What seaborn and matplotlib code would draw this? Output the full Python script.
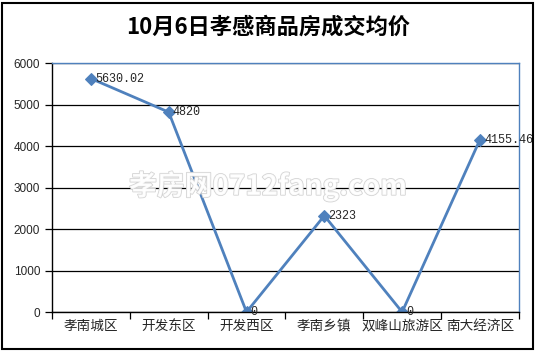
import pandas as pd
import numpy as np
import matplotlib.pyplot as plt
import matplotlib.patheffects as pe
from matplotlib.patches import Rectangle
import seaborn as sns

# data
districts = ['孝南城区', '开发东区', '开发西区', '孝南乡镇', '双峰山旅游区', '南大经济区']
avg_price = [5630.02, 4820, 0, 2323, 0, 4155.46]
price_labels = ['5630.02', '4820', '0', '2323', '0', '4155.46']

df = pd.DataFrame({'district': districts, 'price': avg_price})

sns.set_style('white')
plt.rcParams['font.family'] = ['Noto Sans CJK SC', 'DejaVu Sans']

fig = plt.figure(figsize=(5.36, 3.51), dpi=100)
ax = fig.add_axes([0.097, 0.111, 0.871, 0.709])

line_color = '#4F81BD'
sns.lineplot(data=df, x='district', y='price', ax=ax, color=line_color,
             linewidth=2, marker='D', markersize=6.5, markeredgecolor=line_color,
             sort=False)

for i, (v, lab) in enumerate(zip(avg_price, price_labels)):
    ax.annotate(lab, (i, v), xytext=(3, 0), textcoords='offset points',
                ha='left', va='center', fontsize=8.5, family='Liberation Mono')

ax.set_ylim(0, 6000)
ax.set_xlim(-0.5, len(districts) - 0.5)
ax.set_yticks(np.arange(0, 6001, 1000))
ax.yaxis.grid(True, color='black', linewidth=0.9)
ax.set_axisbelow(True)
ax.set_xlabel('')
ax.set_ylabel('')

# category boundaries as tick marks
ax.set_xticks(np.arange(-0.5, len(districts), 1.0), minor=True)
ax.tick_params(axis='x', which='major', length=0, labelsize=9.8, pad=5)
ax.tick_params(axis='x', which='minor', length=5, width=0.9, color='black', direction='out')
ax.tick_params(axis='y', length=5, width=0.9, color='black', direction='out', labelsize=8.5)
ax.tick_params(axis='both', which='both', bottom=True, left=True)
for lab in ax.get_yticklabels():
    lab.set_family('Liberation Sans')

ax.spines['left'].set_color('black')
ax.spines['bottom'].set_color('black')
ax.spines['top'].set_color(line_color)
ax.spines['right'].set_color(line_color)
for s in ax.spines.values():
    s.set_linewidth(1)

# watermark
fig.text(0.5, 0.47, '孝房网0712fang.com', ha='center', va='center', fontsize=20,
         color='white', alpha=0.9, family=['Noto Sans CJK SC', 'DejaVu Serif'],
         fontweight='bold',
         path_effects=[pe.withStroke(linewidth=1.2, foreground='#d0d0d0')])

fig.text(0.5, 0.922, '10月6日孝感商品房成交均价', ha='center', va='center',
         fontsize=16, fontweight='bold', color='black')

fig.patches.append(Rectangle((0.004, 0.006), 0.991, 0.986, transform=fig.transFigure,
                             fill=False, edgecolor='black', linewidth=1.5))

fig.savefig('out.png', dpi=100)
